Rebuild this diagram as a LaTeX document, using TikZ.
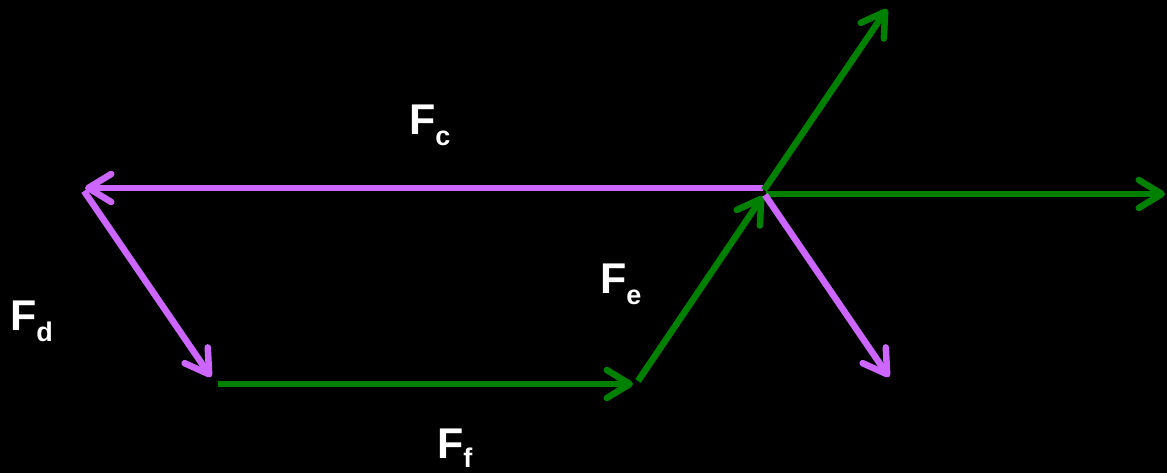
\documentclass[tikz,border=0pt]{standalone}
\usepackage{fontspec}
\setmainfont{Liberation Sans}
\usetikzlibrary{arrows.meta}
\definecolor{vpurple}{HTML}{CC66FF}
\definecolor{vgreen}{HTML}{008000}
\newcommand{\flabel}[2][11pt]{\fontsize{43}{43}\selectfont\bfseries F\raisebox{-#1}{\fontsize{27}{27}\selectfont\bfseries #2}}
\tikzset{
  vec/.style={line width=6.5pt, -{Straight Barb[length=23pt,width=28pt,line cap=round,line join=round]}},
  pvec/.style={vec, draw=vpurple},
  gvec/.style={vec, draw=vgreen},
  lbl/.style={text=white, inner sep=0pt, anchor=base west}
}
\begin{document}
\begin{tikzpicture}[x=1pt,y=-1pt]
\fill[black] (0,0) rectangle (1167,473);
\useasboundingbox (0,0) rectangle (1167,473);
\coordinate (O) at (764,190);
\coordinate (A) at (85,188);
\coordinate (A2) at (84,191);
\coordinate (B) at (211,377);
\coordinate (C0) at (218,384);
\coordinate (C) at (633,384);
\coordinate (D0) at (638,381);
\coordinate (D) at (763,196);
\coordinate (O2) at (765,195);
\coordinate (E) at (887,9);
\coordinate (G) at (1165,194);
\coordinate (H) at (889,377);
\draw[pvec] (763,188) -- (A);
\draw[pvec] (A2) -- (B);
\draw[gvec] (C0) -- (C);
\draw[gvec] (D0) -- (D);
\draw[gvec] (O) -- (E);
\draw[gvec] (766,194) -- (G);
\draw[pvec] (O2) -- (H);
\node[lbl] (Fc) at (409,135) {\flabel{c}};
\node[lbl] (Fd) at (10,330) {\flabel{d}};
\node[lbl] (Fe) at (600,293) {\flabel{e}};
\node[lbl] (Ff) at (437,458) {\flabel[9pt]{f}};
\end{tikzpicture}
\end{document}
